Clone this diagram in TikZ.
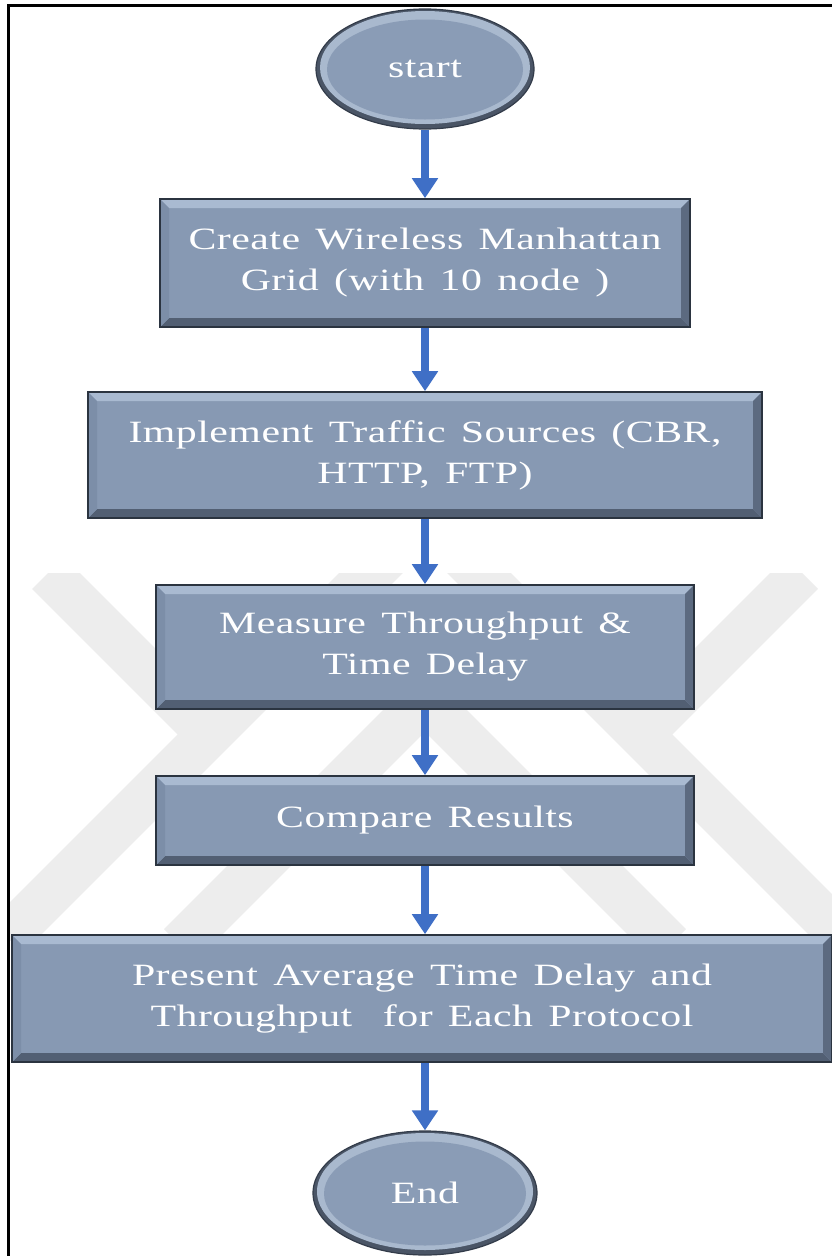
\documentclass[tikz,border=0pt]{standalone}
\usepackage{fontspec}
\setmainfont{Liberation Serif}[FakeStretch=1.35, LetterSpace=1.5, WordSpace=1.4]
\usetikzlibrary{arrows.meta,shapes.geometric,calc}

\definecolor{boxfill}{HTML}{8799B3}
\definecolor{bevtop}{HTML}{A9BAD1}
\definecolor{bevleft}{HTML}{7C8EA8}
\definecolor{bevbottom}{HTML}{525F73}
\definecolor{bevright}{HTML}{5C6A80}
\definecolor{boxline}{HTML}{2B3440}
\definecolor{flowblue}{HTML}{3F6FC6}
\definecolor{wmgrey}{HTML}{EDEDED}
\definecolor{ovalfill}{HTML}{8A9CB6}
\definecolor{ovalmid}{HTML}{75869F}
\definecolor{ovaldark}{HTML}{4A5566}
\definecolor{ovalline}{HTML}{333C4A}
\definecolor{ovallight}{HTML}{A9B9CE}

\tikzset{
  labelfont/.style={font=\fontsize{31}{41}\selectfont},
  stepbox/.style={rectangle, draw=boxline, line width=1.6pt, fill=boxfill,
    text=white, align=center, inner sep=0pt, labelfont,
    path picture={
      \fill[bevtop] (path picture bounding box.north west) -- (path picture bounding box.north east)
        -- ([shift={(-9pt,-9pt)}]path picture bounding box.north east)
        -- ([shift={(9pt,-9pt)}]path picture bounding box.north west) -- cycle;
      \fill[bevbottom] (path picture bounding box.south west) -- (path picture bounding box.south east)
        -- ([shift={(-9pt,9pt)}]path picture bounding box.south east)
        -- ([shift={(9pt,9pt)}]path picture bounding box.south west) -- cycle;
      \fill[bevleft] (path picture bounding box.north west)
        -- ([shift={(9pt,-9pt)}]path picture bounding box.north west)
        -- ([shift={(9pt,9pt)}]path picture bounding box.south west)
        -- (path picture bounding box.south west) -- cycle;
      \fill[bevright] (path picture bounding box.north east)
        -- ([shift={(-9pt,-9pt)}]path picture bounding box.north east)
        -- ([shift={(-9pt,9pt)}]path picture bounding box.south east)
        -- (path picture bounding box.south east) -- cycle;
    }},
  % oval with a dark rim, a light inner ring at the top and a flat face
  terminal/.style={ellipse, draw=ovalline, line width=1.2pt, fill=ovaldark,
    text=white, inner sep=0pt, labelfont,
    path picture={
      \path let \p1=(path picture bounding box.north east),
                \p2=(path picture bounding box.south west),
                \n1={(\x1-\x2)/2}, \n2={(\y1-\y2)/2} in
        [fill=ovalmid]   ([yshift=1.5pt]path picture bounding box.center)
          ellipse [x radius=\n1-4pt, y radius=\n2-3.5pt]
        [fill=ovallight] ([yshift=2.5pt]path picture bounding box.center)
          ellipse [x radius=\n1-8pt, y radius=\n2-6.5pt];
      \path let \p1=(path picture bounding box.north east),
                \p2=(path picture bounding box.south west),
                \n1={(\x1-\x2)/2}, \n2={(\y1-\y2)/2} in
        [fill=ovalfill] ([yshift=-0.5pt]path picture bounding box.center)
          ellipse [x radius=\n1-11pt, y radius=\n2-10pt];
    }},
  flow/.style={draw=flowblue, line width=8pt, -{Triangle[width=25pt,length=20pt]}},
  wm/.style={draw=wmgrey, line width=45pt, line cap=butt, line join=miter}
}

\begin{document}
\begin{tikzpicture}[x=1pt, y=-1pt]
  \useasboundingbox (0,0) rectangle (832,1256);
  \fill[white] (0,0) rectangle (832,1256);

  % faint chevron watermark behind the chart
  \begin{scope}
    \clip (10,573) rectangle (832,940);
    \draw[wm] (0,944) -- (425,519) -- (850,944);
    \draw[wm] (48,573) -- (215,740);
    \draw[wm] (802,573) -- (635,740);
    \draw[wm] (180,945) -- (425,700) -- (670,945);
  \end{scope}

  % page frame
  \draw[line width=3pt, line cap=rect] (8,1256) -- (8,5) -- (832,5);

  % flowchart nodes
  \node[terminal, minimum width=218pt, minimum height=120pt] (start) at (425,69) {start};
  \node[stepbox, minimum width=530pt, minimum height=128pt] (b1) at (425,263)
    {Create Wireless Manhattan\\Grid (with 10 node )};
  \node[stepbox, minimum width=674pt, minimum height=126pt] (b2) at (425,455)
    {Implement Traffic Sources (CBR,\\HTTP, FTP)};
  \node[stepbox, minimum width=538pt, minimum height=124pt] (b3) at (425,647)
    {Measure Throughput \&\\Time Delay};
  \node[stepbox, minimum width=538pt, minimum height=89pt] (b4) at (425,820.5)
    {Compare Results};
  \node[stepbox, minimum width=820pt, minimum height=127pt] (b5) at (422,998.5)
    {Present Average Time Delay and\\Throughput\ \ for Each Protocol};
  \node[terminal, minimum width=224pt, minimum height=124pt] (endn) at (425,1193) {End};

  % connectors
  \draw[flow] (start) -- (b1);
  \draw[flow] (b1) -- (b2);
  \draw[flow] (b2) -- (b3);
  \draw[flow] (b3) -- (b4);
  \draw[flow] (b4.south) -- (b4.south |- b5.north);
  \draw[flow] (b5.south -| endn) -- (endn.north);
\end{tikzpicture}
\end{document}
